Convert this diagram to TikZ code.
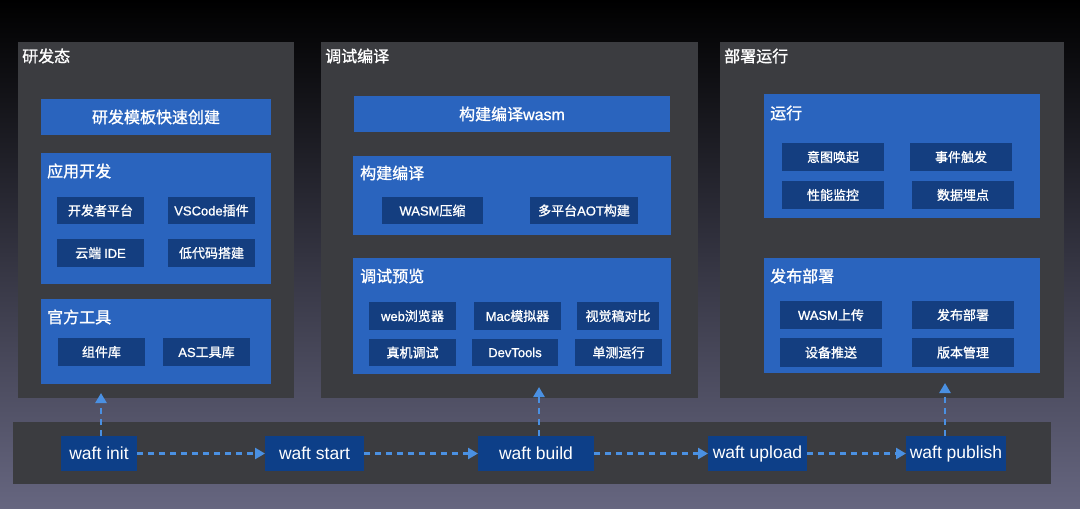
\documentclass[tikz,border=0pt]{standalone}
\usepackage{fontspec}
\setmainfont{Noto Sans CJK SC}[FakeBold=1.2]
\newfontfamily\lat{Liberation Sans}
\newfontfamily\latm{Liberation Sans}[FakeBold=1]
\usetikzlibrary{arrows.meta}
\definecolor{panel}{RGB}{59,60,64}
\definecolor{blu}{RGB}{42,100,190}
\definecolor{navy}{RGB}{20,62,128}
\definecolor{wnode}{RGB}{13,63,136}
\definecolor{arr}{RGB}{74,144,226}
\definecolor{bgbot}{RGB}{102,102,128}
\definecolor{bgmid}{RGB}{24,24,42}
\newcommand\bx[7]{\node[#6,minimum width={(#4-#2)*1pt},minimum height={(#5-#3)*1pt}] (#1) at ({(#2+#4)/2},{(#3+#5)/2}) {#7};}
\tikzset{
  box/.style={inner sep=0pt, outer sep=0pt, text=white},
  panelbox/.style={box, fill=panel},
  bluebox/.style={box, fill=blu},
  bar/.style={box, fill=blu, font=\fontsize{16}{19}\selectfont},
  item/.style={box, fill=navy, font=\fontsize{13}{15}\selectfont},
  cmd/.style={box, fill=wnode, font=\lat\fontsize{17.5}{20}\selectfont},
  ptitle/.style={text=white, anchor=west, inner sep=0pt, font=\fontsize{16}{19}\selectfont},
  flow/.style={draw=arr, line width=2.6pt, dash pattern=on 6pt off 5pt, -{Triangle[length=10pt,width=11pt]}}
}
\begin{document}
\begin{tikzpicture}[x=1pt,y=-1pt]
\useasboundingbox (0,0) rectangle (1080,509);
\shade[top color=black, middle color=bgmid, bottom color=bgbot] (0,0) rectangle (1080,509);

% panels
\bx{p1}{18}{42}{294}{398}{panelbox}{}
\bx{p2}{321}{42}{698}{398}{panelbox}{}
\bx{p3}{720}{42}{1064}{398}{panelbox}{}
\node[ptitle] (p1t) at (22,56) {研发态};
\node[ptitle] (p2t) at (325,56) {调试编译};
\node[ptitle] (p3t) at (724,56) {部署运行};

% panel 1
\bx{tmpl}{41}{99}{271}{135}{bar}{研发模板快速创建}
\bx{appdev}{41}{153}{271}{284}{bluebox}{}
\node[ptitle] (appdevt) at (47,171) {应用开发};
\bx{devp}{57}{197}{144}{224}{item}{开发者平台}
\bx{vsc}{168}{197}{255}{224}{item}{{\latm VSCode}插件}
\bx{ide}{57}{239}{144}{267}{item}{云端 {\latm IDE}}
\bx{lowc}{168}{239}{255}{267}{item}{低代码搭建}
\bx{tools}{41}{299}{271}{384}{bluebox}{}
\node[ptitle] (toolst) at (47,317) {官方工具};
\bx{comp}{58}{338}{145}{366}{item}{组件库}
\bx{aslib}{163}{338}{250}{366}{item}{{\latm AS}工具库}

% panel 2
\bx{wasmbar}{354}{96}{670}{132}{bar}{构建编译{\latm wasm}}
\bx{build}{353}{156}{671}{235}{bluebox}{}
\node[ptitle] (buildt) at (360,173) {构建编译};
\bx{wz}{382}{197}{483}{224}{item}{{\latm WASM}压缩}
\bx{aot}{530}{197}{638}{224}{item}{多平台{\latm AOT}构建}
\bx{dbg}{353}{258}{671}{374}{bluebox}{}
\node[ptitle] (dbgt) at (360,276) {调试预览};
\bx{web}{369}{302}{456}{330}{item}{{\latm web}浏览器}
\bx{mac}{474}{302}{561}{330}{item}{{\latm Mac}模拟器}
\bx{vis}{577}{302}{659}{330}{item}{视觉稿对比}
\bx{real}{369}{339}{456}{366}{item}{真机调试}
\bx{devt}{472}{339}{558}{366}{item}{{\latm DevTools}}
\bx{unit}{575}{339}{662}{366}{item}{单测运行}

% panel 3
\bx{run}{764}{94}{1040}{218}{bluebox}{}
\node[ptitle] (runt) at (770,113) {运行};
\bx{intent}{782}{143}{884}{171}{item}{意图唤起}
\bx{event}{910}{143}{1012}{171}{item}{事件触发}
\bx{perf}{782}{181}{884}{209}{item}{性能监控}
\bx{data}{912}{181}{1014}{209}{item}{数据埋点}
\bx{pub}{764}{258}{1040}{373}{bluebox}{}
\node[ptitle] (pubt) at (770,276) {发布部署};
\bx{up}{780}{301}{882}{329}{item}{{\latm WASM}上传}
\bx{deploy}{912}{301}{1014}{329}{item}{发布部署}
\bx{push}{780}{338}{882}{367}{item}{设备推送}
\bx{ver}{912}{338}{1014}{367}{item}{版本管理}

% bottom bar
\bx{cli}{13}{422}{1051}{484}{panelbox}{}
\bx{winit}{61}{436}{137}{471}{cmd}{waft init}
\bx{wstart}{265}{436}{364}{471}{cmd}{waft start}
\bx{wbuild}{478}{436}{594}{471}{cmd}{waft build}
\bx{wupload}{708}{436}{807}{471}{cmd}{waft upload}
\bx{wpub}{906}{436}{1006}{471}{cmd}{waft publish}

\coordinate (t1) at (101,393);
\coordinate (t2) at (539,387);
\coordinate (t3) at (945,383);

\draw[flow] (winit) -- (wstart);
\draw[flow] (wstart) -- (wbuild);
\draw[flow] (wbuild) -- (wupload);
\draw[flow] (wupload) -- (wpub);
\draw[flow] (winit.north -| t1) -- (t1);
\draw[flow] (wbuild.north -| t2) -- (t2);
\draw[flow] (wpub.north -| t3) -- (t3);
\end{tikzpicture}
\end{document}
